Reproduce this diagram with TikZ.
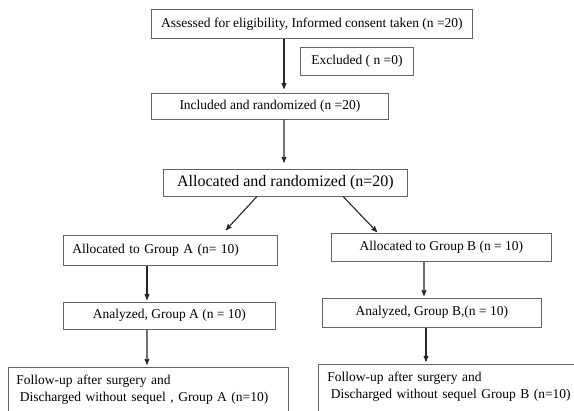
\documentclass[tikz,border=0pt]{standalone}
\usepackage{fontspec}
\setmainfont{Liberation Serif}
\usetikzlibrary{ arrows, positioning }
\tikzset{
>=stealth', % makes the arrow heads bold
box/.style={draw=black!60, line width=0.8bp, inner sep=0pt, font=\fontsize{13.5bp}{17bp}\selectfont}, % every frame
flow/.style={->, line width=1.1bp, black!85}, % connectors
}

\begin{document}
\begin{tikzpicture}[x=1bp, y=-1bp]
  \useasboundingbox (0,0) rectangle (574,410);

  % enrolment
  \node[box, minimum width=321bp, minimum height=29bp, anchor=north west] (assess) at (151,9) {Assessed for eligibility, Informed consent taken (n =20)};
  \node[box, minimum width=113bp, minimum height=28bp, below right=8bp and 149bp of assess.south west] (excl) {Excluded ( n =0)};
  \node[box, minimum width=237bp, minimum height=26bp, below right=54bp and 0bp of assess.south west] (incl) {Included and randomized (n =20)};
  \node[box, font=\fontsize{16bp}{19bp}\selectfont, minimum width=244bp, minimum height=27bp, below right=49bp and 12bp of incl.south west] (alloc) {Allocated and randomized (n=20)};

  % group A
  \node[box, text width=196bp, align=left, inner xsep=9bp, minimum height=30bp, anchor=north west] (grpA) at (63,235) {Allocated to Group A (n= 10)};
  \node[box, minimum width=212bp, minimum height=27bp, below right=36bp and 0bp of grpA.south west] (anaA) {Analyzed, Group A (n = 10)};
  \node[box, text width=264bp, align=left, inner xsep=8bp, inner ysep=5bp, text height=12bp, text depth=36bp, below right=37bp and -55bp of anaA.south west] (follA) {Follow-up after surgery and\\\hspace{3.5bp}Discharged without sequel , Group A (n=10)};

  % group B
  \node[box, minimum width=220bp, minimum height=28bp, anchor=north west] (grpB) at (331,233) {Allocated to Group B (n = 10)};
  \node[box, minimum width=219bp, minimum height=29bp, below right=36bp and -9bp of grpB.south west] (anaB) {Analyzed, Group B,(n = 10)};
  \node[box, text width=262bp, align=left, inner xsep=9bp, inner ysep=5bp, text height=12bp, text depth=36bp, below right=36bp and -4bp of anaB.south west] (follB) {Follow-up after surgery and\\\hspace{3.5bp}Discharged without sequel Group B (n=10)};

  \draw[flow, shorten >=4bp] ([xshift=133bp]assess.south west) -- ([xshift=133bp]incl.north west);
  \draw[flow, shorten >=6bp] ([xshift=133bp]incl.south west) -- ([xshift=121bp]alloc.north west);
  \draw[flow] ([xshift=94bp]alloc.south west) -- ([xshift=163bp,yshift=5bp]grpA.north west);
  \draw[flow] ([xshift=180bp]alloc.south west) -- ([xshift=46bp,yshift=1bp]grpB.north west);

  \draw[flow, shorten >=2bp] ([xshift=84bp]grpA.south west) -- ([xshift=84bp]anaA.north west);
  \draw[flow, shorten >=2bp] ([xshift=84bp]anaA.south west) -- ([xshift=139bp]follA.north west);
  \draw[flow, shorten >=2bp] ([xshift=93bp]grpB.south west) -- ([xshift=102bp]anaB.north west);
  \draw[flow, shorten >=2bp] ([xshift=104bp]anaB.south west) -- ([xshift=108bp]follB.north west);
\end{tikzpicture}
\end{document}
